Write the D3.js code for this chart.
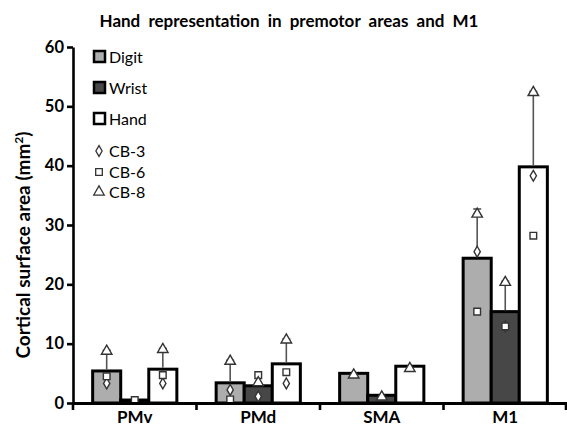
<!DOCTYPE html>
<html><head><meta charset="utf-8">
<script src="https://cdn.jsdelivr.net/npm/d3@7"></script>
<style>body{margin:0;background:#fff}svg{display:block}</style>
</head><body>
<svg id="chart" width="567" height="427"></svg>
<script>
const categories = ["PMv", "PMd", "SMA", "M1"];
const seriesNames = ["Digit", "Wrist", "Hand"];
const digit = [5.4, 3.4, 5.0, 24.4];
const wrist = [0.5, 2.9, 1.3, 15.4];
const hand  = [5.7, 6.6, 6.2, 39.8];
// upper error bar ends
const digitErr = [8.9, 7.2, null, 32.7];
const wristErr = [null, null, null, 20.5];
const handErr  = [9.2, 10.8, null, 52.5];
// individual subjects
const cb3Digit = [3.3, 2.2, null, 25.5];
const cb3Wrist = [null, 1.1, null, 12.9];
const cb3Hand  = [3.3, 3.3, null, 38.3];
const cb6Digit = [4.5, 0.6, null, 15.4];
const cb6Wrist = [0.5, 4.7, null, 12.9];
const cb6Hand  = [4.7, 5.2, null, 28.2];
const cb8Digit = [8.9, 7.2, 4.9, 32.0];
const cb8Wrist = [null, 3.6, 1.2, 20.5];
const cb8Hand  = [9.2, 10.8, 6.0, 52.5];
const yTicks = [0, 10, 20, 30, 40, 50, 60];
const subjects = ["CB-3", "CB-6", "CB-8"];

const FONT = "Lato, 'Open Sans', sans-serif";
const fills = {Digit: "#adadad", Wrist: "#474747", Hand: "#ffffff"};
const values = {Digit: digit, Wrist: wrist, Hand: hand};
const errs = {Digit: digitErr, Wrist: wristErr, Hand: handErr};
const pts = {
  Digit: [cb3Digit, cb6Digit, cb8Digit],
  Wrist: [cb3Wrist, cb6Wrist, cb8Wrist],
  Hand:  [cb3Hand, cb6Hand, cb8Hand]
};
const symbols = [d3.symbolDiamond, d3.symbolSquare, d3.symbolTriangle];
const symSizes = [34, 44, 48];

const svg = d3.select("#chart");
const x = d3.scaleBand().domain(categories).range([73, 567]).paddingInner(0).paddingOuter(0);
const xs = d3.scaleBand().domain(seriesNames).range([0, x.bandwidth()]).paddingInner(0).paddingOuter(0.7);
const y = d3.scaleLinear().domain([0, 60]).range([403, 47]);

// title
svg.append("text").attr("x", 289).attr("y", 27).attr("text-anchor", "middle")
  .attr("font-family", FONT).attr("font-weight", "bold").attr("font-size", 17)
  .attr("word-spacing", 4).text("Hand representation in premotor areas and M1");

// y label
svg.append("text").attr("transform", "translate(30,245) rotate(-90)").attr("text-anchor", "middle")
  .attr("font-family", FONT).attr("font-weight", "bold").attr("font-size", 19)
  .html("Cortical surface area (mm<tspan dy='-7' font-size='12'>2</tspan><tspan dy='7'>)</tspan>");

// bars
const g = svg.append("g");
seriesNames.forEach(s => {
  categories.forEach((c, i) => {
    const v = values[s][i];
    g.append("rect")
      .attr("x", x(c) + xs(s)).attr("y", y(v))
      .attr("width", xs.bandwidth()).attr("height", y(0) - y(v))
      .attr("fill", fills[s]).attr("stroke", "#000").attr("stroke-width", 3);
  });
});

// error bars
seriesNames.forEach(s => {
  categories.forEach((c, i) => {
    const e = errs[s][i];
    if (e == null) return;
    const cx = x(c) + xs(s) + xs.bandwidth() / 2;
    g.append("line").attr("x1", cx).attr("x2", cx).attr("y1", y(values[s][i]) - 1.5).attr("y2", y(e))
      .attr("stroke", "#555").attr("stroke-width", 1.6);
    g.append("line").attr("x1", cx - 4).attr("x2", cx + 4).attr("y1", y(e)).attr("y2", y(e))
      .attr("stroke", "#555").attr("stroke-width", 1.6);
  });
});

// points
seriesNames.forEach(s => {
  pts[s].forEach((arr, k) => {
    categories.forEach((c, i) => {
      const v = arr[i];
      if (v == null) return;
      const cx = x(c) + xs(s) + xs.bandwidth() / 2;
      g.append("path").attr("d", d3.symbol(symbols[k], symSizes[k])())
        .attr("transform", `translate(${cx},${y(v) + (k === 2 ? 1 : 0)})`)
        .attr("fill", "#fff").attr("stroke", "#333").attr("stroke-width", 1.4);
    });
  });
});

// y axis
const yAxis = svg.append("g").attr("transform", "translate(73,0)")
  .call(d3.axisLeft(y).tickValues(yTicks).tickSize(6).tickSizeOuter(0).tickPadding(3));
yAxis.select(".domain").attr("stroke-width", 2.6);
yAxis.selectAll(".tick line").attr("stroke-width", 2.6);
yAxis.selectAll(".tick text").attr("font-family", FONT).attr("font-weight", "bold").attr("font-size", 16.5).attr("fill", "#000");

// x axis
const xAxis = svg.append("g").attr("transform", "translate(0,403)")
  .call(d3.axisBottom(x).tickSize(0).tickSizeOuter(0).tickPadding(8));
xAxis.select(".domain").attr("stroke-width", 2.8);
xAxis.selectAll(".tick text").attr("font-family", FONT).attr("font-weight", "bold").attr("font-size", 17).attr("fill", "#000");
const bounds = categories.map(c => x(c)).concat([x.range()[1] - 1]);
xAxis.selectAll(".btick").data(bounds).enter().append("line").attr("class", "btick")
  .attr("x1", d => d).attr("x2", d => d).attr("y1", 0).attr("y2", 7)
  .attr("stroke", "#000").attr("stroke-width", 2.6);

// legend
const leg = svg.append("g");
seriesNames.forEach((s, i) => {
  const ly = [57, 88, 119][i];
  leg.append("rect").attr("x", 94).attr("y", ly - 6).attr("width", 11).attr("height", 11)
    .attr("fill", fills[s]).attr("stroke", "#000").attr("stroke-width", 2.5);
  leg.append("text").attr("x", 109).attr("y", ly + 6).attr("font-family", FONT).attr("font-size", 16)
    .attr("fill", "#000").text(s);
});
subjects.forEach((s, k) => {
  const ly = [151, 172, 192][k];
  leg.append("path").attr("d", d3.symbol(symbols[k], symSizes[k])())
    .attr("transform", `translate(99,${ly})`)
    .attr("fill", "#fff").attr("stroke", "#333").attr("stroke-width", 1.3);
  leg.append("text").attr("x", 109).attr("y", ly + 6).attr("font-family", FONT).attr("font-size", 16)
    .attr("fill", "#000").text(s);
});
</script>
</body></html>
